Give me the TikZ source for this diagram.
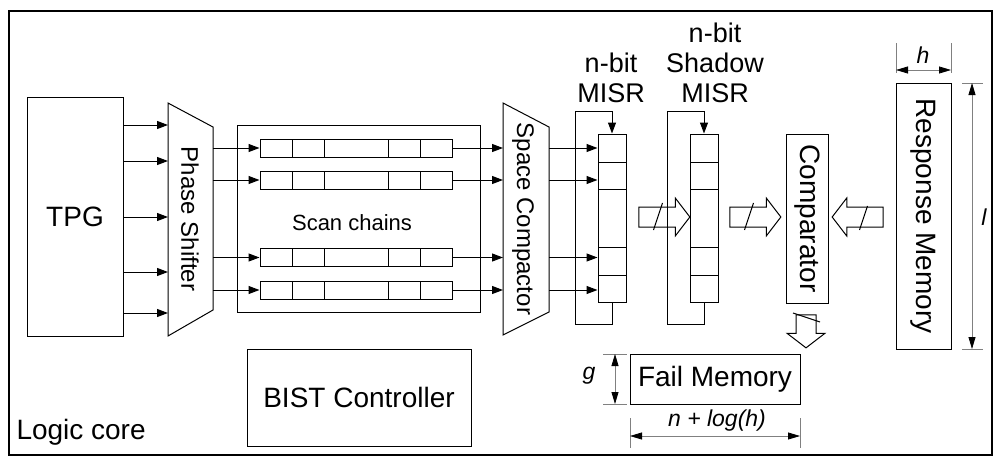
\documentclass[tikz,border=0pt]{standalone}
\usepackage{fontspec}
\setmainfont{Liberation Sans}
\usetikzlibrary{arrows.meta,shapes.arrows,calc}

\tikzset{
  block/.style={draw, inner sep=0pt, font=\fontsize{28pt}{30pt}\selectfont},
  cell/.style={draw, inner sep=0pt, minimum width=32pt, minimum height=18pt},
  wcell/.style={cell, minimum width=64pt},
  mcell/.style={draw, inner sep=0pt, minimum width=28pt, minimum height=#1},
  bus/.style={single arrow, draw, inner xsep=0pt, inner ysep=9.5pt, minimum width=0pt,
    minimum height=51pt, single arrow head extend=9pt, single arrow tip angle=105},
  dim/.style={gray, line width=0.8pt},
  dimtip/.style={dim, {Triangle[length=12pt,width=7pt,color=black]}-{Triangle[length=12pt,width=7pt,color=black]}},
  dimlabel/.style={inner sep=0pt, font=\fontsize{23pt}{25pt}\selectfont\itshape},
}

\begin{document}
\begin{tikzpicture}[x=1pt, y=-1pt, line width=1pt, >={Triangle[length=11pt,width=8pt]}]
    \useasboundingbox (0,0) rectangle (1003,463);

    % logic core frame
    \node[draw, line width=1.8pt, inner sep=0pt, minimum width=983pt, minimum height=444pt] (core) at (500.5,233) {};
    \node[anchor=west, inner sep=0pt, font=\fontsize{28pt}{30pt}\selectfont] (corelab) at (16,432) {Logic core};

    % blocks
    \node[block, minimum width=96pt, minimum height=239pt] (TPG) at (75,216.5) {TPG};
    \node[block, minimum width=243pt, minimum height=187pt] (chains) at (358.5,218.5) {};
    \node[font=\fontsize{22pt}{24pt}\selectfont] (chainlab) at (352,223) {Scan chains};
    \node[block, minimum width=224pt, minimum height=97pt] (BIST) at (359,397.5) {BIST Controller};
    \node[block, minimum width=170pt, minimum height=50pt] (fail) at (715,379) {Fail Memory};
    \node[block, rotate=-90, minimum width=169pt, minimum height=42pt] (comp) at (807,218.5) {Comparator};
    \node[block, rotate=-90, minimum width=266pt, minimum height=55pt] (resp) at (923.5,216) {Response Memory};

    % phase shifter and space compactor
    \coordinate (psa) at (168,103); \coordinate (psb) at (213,127); \coordinate (psc) at (213,310); \coordinate (psd) at (168,336);
    \coordinate (sca) at (503,103); \coordinate (scb) at (549,127); \coordinate (scc) at (549,312); \coordinate (scd) at (503,335);
    \draw (psa) -- (psb) -- (psc) -- (psd) -- cycle;
    \draw (sca) -- (scb) -- (scc) -- (scd) -- cycle;
    \node[rotate=-90, inner sep=0pt, font=\fontsize{24pt}{26pt}\selectfont] (PS) at (190,219) {Phase Shifter};
    \node[rotate=-90, inner sep=0pt, font=\fontsize{24pt}{26pt}\selectfont] (SC) at (523,219) {Space Compactor};

    % scan chains
    \node[cell] (C11) at (276,148) {}; \node[cell] (C12) at (308,148) {}; \node[wcell] (C13) at (356,148) {}; \node[cell] (C14) at (404,148) {}; \node[cell] (C15) at (436,148) {};
    \node[cell] (C21) at (276,180) {}; \node[cell] (C22) at (308,180) {}; \node[wcell] (C23) at (356,180) {}; \node[cell] (C24) at (404,180) {}; \node[cell] (C25) at (436,180) {};
    \node[cell] (C31) at (276,257.5) {}; \node[cell] (C32) at (308,257.5) {}; \node[wcell] (C33) at (356,257.5) {}; \node[cell] (C34) at (404,257.5) {}; \node[cell] (C35) at (436,257.5) {};
    \node[cell] (C41) at (276,290) {}; \node[cell] (C42) at (308,290) {}; \node[wcell] (C43) at (356,290) {}; \node[cell] (C44) at (404,290) {}; \node[cell] (C45) at (436,290) {};

    % MISR and shadow MISR
    \node[mcell=28pt] (M1) at (612,148) {}; \node[mcell=27pt] (M2) at (612,175.5) {}; \node[mcell=58pt] (M3) at (612,218) {}; \node[mcell=28pt] (M4) at (612,261) {}; \node[mcell=27pt] (M5) at (612,288.5) {};
    \node[mcell=28pt] (S1) at (704,148) {}; \node[mcell=27pt] (S2) at (704,175.5) {}; \node[mcell=58pt] (S3) at (704,218) {}; \node[mcell=28pt] (S4) at (704,261) {}; \node[mcell=27pt] (S5) at (704,288.5) {};
    \node[anchor=north, inner sep=0pt, align=center, font=\fontsize{27pt}{30pt}\selectfont] (mlab) at (611,52) {n-bit\\MISR};
    \node[anchor=north, inner sep=0pt, align=center, font=\fontsize{27pt}{30pt}\selectfont] (slab) at (715,22) {n-bit\\Shadow\\MISR};

    % TPG to phase shifter
    \coordinate (t1) at (168,125); \coordinate (t2) at (168,161); \coordinate (t3) at (168,217); \coordinate (t4) at (168,272); \coordinate (t5) at (168,313);
    \draw[->] (TPG.east |- t1) -- (t1); \draw[->] (TPG.east |- t2) -- (t2); \draw[->] (TPG.east |- t3) -- (t3); \draw[->] (TPG.east |- t4) -- (t4); \draw[->] (TPG.east |- t5) -- (t5);

    % phase shifter to scan chains to space compactor
    \draw[->] (psb |- C11) -- (C11.west); \draw[->] (psb |- C21) -- (C21.west); \draw[->] (psb |- C31) -- (C31.west); \draw[->] (psb |- C41) -- (C41.west);
    \draw[->] (C15.east) -- (sca |- C15); \draw[->] (C25.east) -- (sca |- C25); \draw[->] (C35.east) -- (sca |- C35); \draw[->] (C45.east) -- (sca |- C45);

    % space compactor to MISR
    \draw[->] (scb |- C15) -- (C15 -| M1.west); \draw[->] (scb |- C25) -- (C25 -| M2.west); \draw[->] (scb |- C35) -- (C35 -| M4.west); \draw[->] (scb |- C45) -- (C45 -| M5.west);

    % feedback loops
    \coordinate (ml1) at (575,324); \coordinate (ml2) at (575,111);
    \coordinate (sl1) at (667,324); \coordinate (sl2) at (667,111);
    \draw[->] (M5.south) |- (ml1) -- (ml2) -| (M1.north);
    \draw[->] (S5.south) |- (sl1) -- (sl2) -| (S1.north);

    % buses
    \node[bus] (B1) at (660.5,217) {};
    \node[bus] (B2) at (751.5,217) {};
    \node[bus, rotate=180] (B3) at (861.5,217) {};
    \node[bus, rotate=-90, minimum height=33pt] (B4) at (806,327.5) {};
    \draw ($(B1)+(-7,13)$) -- ($(B1)+(2,-14)$);
    \draw ($(B2)+(-7,13)$) -- ($(B2)+(2,-14)$);
    \draw ($(B3)+(-2,13)$) -- ($(B3)+(6,-11)$);
    \draw ($(B4)+(-13,-14.5)$) -- ($(B4)+(14,-5.5)$);

    % dimensions
    \draw[dim] (896,43) -- (896,73); \draw[dim] (951,43) -- (951,73);
    \coordinate (h1) at (896,70); \coordinate (h2) at (951,70);
    \draw[dimtip] (h1) -- (h2);
    \node[dimlabel] (hlab) at (923,55) {h};

    \draw[dim] (962,83) -- (983,83); \draw[dim] (962,349) -- (983,349);
    \coordinate (l1) at (972,83); \coordinate (l2) at (972,349);
    \draw[dimtip] (l1) -- (l2);
    \node[dimlabel] (llab) at (984,217) {l};

    \draw[dim] (603,354) -- (627,354); \draw[dim] (603,404) -- (627,404);
    \coordinate (g1) at (615,354); \coordinate (g2) at (615,404);
    \draw[dimtip] (g1) -- (g2);
    \node[dimlabel] (glab) at (589,376) {g};

    \draw[dim] (630,418) -- (630,448); \draw[dim] (800,418) -- (800,448);
    \coordinate (n1) at (630,436); \coordinate (n2) at (800,436);
    \draw[dimtip] (n1) -- (n2);
    \node[dimlabel] (nlab) at (717,421) {n + log(h)};
\end{tikzpicture}
\end{document}
